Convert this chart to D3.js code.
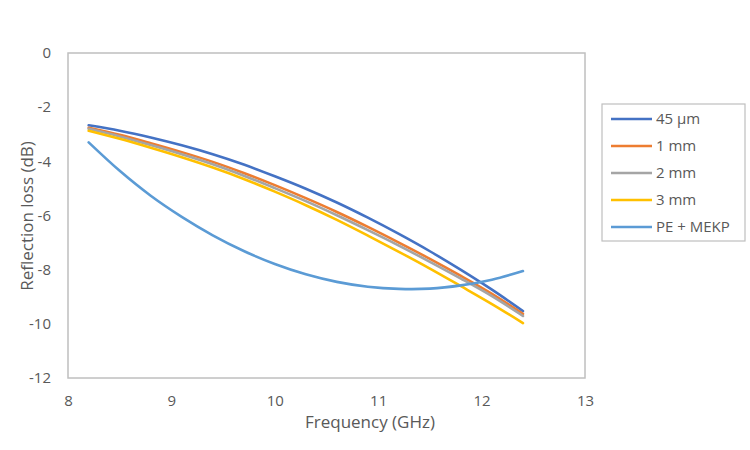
<!DOCTYPE html>
<html><head><meta charset="utf-8">
<script src="https://cdn.jsdelivr.net/npm/d3@7"></script>
<style>body{margin:0;background:#fff}svg{display:block}text{font-family:"Open Sans","Liberation Sans",sans-serif;fill:#595959}</style>
</head><body><svg id="c" width="750" height="450"></svg>
<script>
const freq = [8.2,8.5,8.8,9.1,9.4,9.7,10.0,10.3,10.6,10.9,11.2,11.5,11.8,12.1,12.4];
const s45um = [-2.67,-2.87,-3.12,-3.41,-3.74,-4.12,-4.55,-5.01,-5.52,-6.08,-6.68,-7.32,-8.01,-8.74,-9.53];
const s1mm  = [-2.76,-3.02,-3.33,-3.66,-4.02,-4.43,-4.88,-5.36,-5.87,-6.42,-7.00,-7.60,-8.23,-8.89,-9.63];
const s2mm  = [-2.80,-3.08,-3.40,-3.74,-4.11,-4.53,-4.99,-5.47,-5.99,-6.54,-7.11,-7.71,-8.33,-8.98,-9.71];
const s3mm  = [-2.87,-3.17,-3.50,-3.85,-4.23,-4.65,-5.12,-5.62,-6.16,-6.74,-7.34,-7.96,-8.61,-9.27,-9.97];
const sPE   = [-3.30,-4.35,-5.27,-6.05,-6.73,-7.31,-7.79,-8.17,-8.45,-8.63,-8.71,-8.70,-8.58,-8.37,-8.05];
const seriesNames = ["45 µm","1 mm","2 mm","3 mm","PE + MEKP"];
const seriesColors = ["#4472C4","#ED7D31","#A5A5A5","#FFC000","#5B9BD5"];
const xTicks = [8,9,10,11,12,13];
const yTicks = [0,-2,-4,-6,-8,-10,-12];
const allSeries = [s45um,s1mm,s2mm,s3mm,sPE];

const svg = d3.select("#c");
const L=68,R=585,T=53,B=378;
const x = d3.scaleLinear().domain([8,13]).range([L,R]);
const y = d3.scaleLinear().domain([-12,0]).range([B,T]);

svg.append("rect").attr("x",L).attr("y",T).attr("width",R-L).attr("height",B-T)
  .attr("fill","none").attr("stroke","#BFBFBF").attr("stroke-width",1.5);

const yAx = svg.append("g").attr("transform",`translate(${L},0)`)
  .call(d3.axisLeft(y).tickValues(yTicks).tickSize(0).tickPadding(17).tickFormat(d=>String(d)));
yAx.select(".domain").remove();
yAx.selectAll("text").attr("font-size",15).style("fill","#595959");

const xAx = svg.append("g").attr("transform",`translate(0,${B})`)
  .call(d3.axisBottom(x).tickValues(xTicks).tickSize(0).tickPadding(17).tickFormat(d3.format("d")));
xAx.select(".domain").remove();
xAx.selectAll("text").attr("font-size",15).style("fill","#595959");

svg.append("text").attr("x",370).attr("y",428).attr("text-anchor","middle").attr("font-size",17).text("Frequency (GHz)");
svg.append("text").attr("transform","translate(33,216) rotate(-90)").attr("text-anchor","middle").attr("font-size",17).text("Reflection loss (dB)");

const line = d3.line().x((d,i)=>x(freq[i])).y(d=>y(d)).curve(d3.curveCatmullRom);
allSeries.forEach((s,k)=>{
  svg.append("path").datum(s).attr("d",line).attr("fill","none")
    .attr("stroke",seriesColors[k]).attr("stroke-width",2.6).attr("stroke-linecap","round");
});

const lg = svg.append("g");
lg.append("rect").attr("x",602).attr("y",104).attr("width",143).attr("height",137)
  .attr("fill","#fff").attr("stroke","#BFBFBF").attr("stroke-width",1.2);
seriesNames.forEach((n,k)=>{
  const yy = 119 + k*27;
  lg.append("line").attr("x1",611).attr("x2",652).attr("y1",yy).attr("y2",yy)
    .attr("stroke",seriesColors[k]).attr("stroke-width",2.6);
  lg.append("text").attr("x",656).attr("y",yy+5).attr("font-size",15).text(n);
});
</script></body></html>
